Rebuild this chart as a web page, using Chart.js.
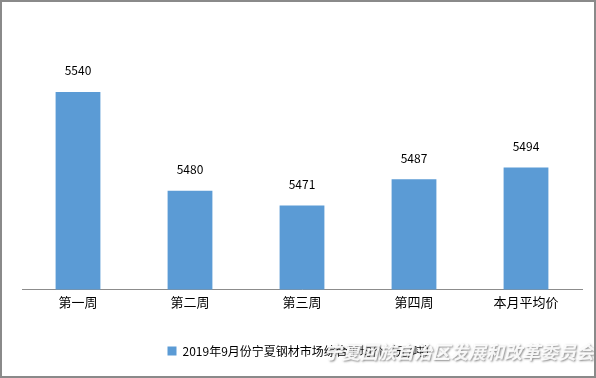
<!DOCTYPE html>
<html>
<head>
<meta charset="utf-8">
<script src="https://cdn.jsdelivr.net/npm/chart.js@4"></script>
<style>
    body { margin: 0; background: #fff; }
    .marco { position: relative; width: 596px; height: 378px; }
    .marco canvas { position: absolute; left: 0; top: 0; }
    .borde { position: absolute; left: 0; top: 0; width: 596px; height: 378px; box-sizing: border-box; border: 2px solid #8a8a8a; pointer-events: none; }
</style>
</head>
<body>
<div class="marco">
    <canvas id="grafica-precios" width="596" height="378"></canvas>
    <div class="borde"></div>
</div>
<script>
(function(){

    const semanas = ['第一周', '第二周', '第三周', '第四周', '本月平均价'];
    const precios = [5540, 5480, 5471, 5487, 5494];
    const serie = '2019年9月份宁夏钢材市场综合平均价（元/吨）';
    const marcaAgua = '宁夏回族自治区发展和改革委员会';

    const fuente = "'Noto Sans CJK SC', 'Noto Sans', sans-serif";

    // etiquetas de valor encima de cada barra
    const etiquetas = {
        id: 'etiquetas',
        afterDatasetsDraw(chart) {
            const ctx = chart.ctx;
            const meta = chart.getDatasetMeta(0);
            ctx.save();
            ctx.font = '12px ' + fuente;
            ctx.fillStyle = '#000';
            ctx.textAlign = 'center';
            ctx.textBaseline = 'middle';
            meta.data.forEach((barra, i) => {
                ctx.fillText(chart.data.datasets[0].data[i], barra.x, barra.y - 21);
            });
            ctx.restore();
        },
        afterDraw(chart) {
            // marca de agua sobre la leyenda
            const ctx = chart.ctx;
            ctx.save();
            ctx.font = 'bold italic 18px ' + fuente;
            ctx.textAlign = 'right';
            ctx.textBaseline = 'middle';
            ctx.shadowColor = 'rgba(90,90,90,0.8)';
            ctx.shadowBlur = 2;
            ctx.shadowOffsetX = 1;
            ctx.shadowOffsetY = 1;
            ctx.fillStyle = 'rgba(255,255,255,0.9)';
            ctx.fillText(marcaAgua, 594, 352);
            ctx.restore();
        }
    };

    const ctx = document.getElementById('grafica-precios');

    const data = {
        labels: semanas,
        datasets: [{
            label: serie,
            data: precios,
            backgroundColor: '#5b9bd5',
            borderWidth: 0,
            categoryPercentage: 1,
            barPercentage: 0.4
        }]
    };
    const config = {
        type: 'bar',
        data: data,
        options: {
            responsive: false,
            animation: false,
            layout: {
                padding: { top: 59, left: 22, right: 14, bottom: 11 }
            },
            scales: {
                x: {
                    grid: { display: false, drawTicks: false },
                    border: { display: true, color: '#8c8c8c', width: 1 },
                    ticks: {
                        color: '#000',
                        padding: 5,
                        font: { size: 13, family: fuente }
                    }
                },
                y: {
                    display: false,
                    min: 5420,
                    max: 5560
                }
            },
            plugins: {
                legend: {
                    position: 'bottom',
                    labels: {
                        boxWidth: 9,
                        boxHeight: 9,
                        padding: 30,
                        color: '#000',
                        font: { size: 12, family: fuente }
                    }
                },
                tooltip: {
                    enabled: false
                }
            }
        },
        plugins: [etiquetas]
    };

    new Chart(ctx, config);

})();
</script>
</body>
</html>
